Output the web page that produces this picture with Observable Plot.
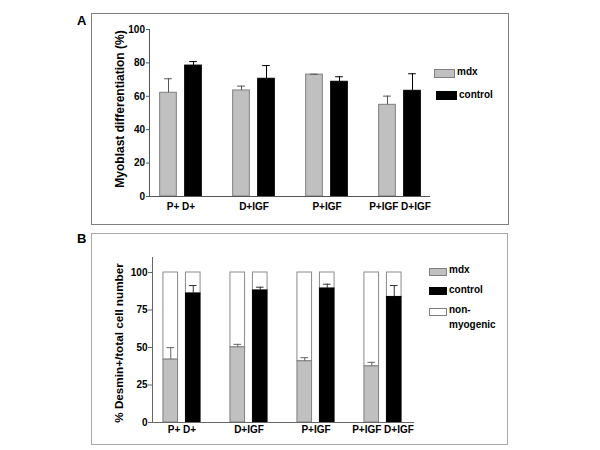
<!DOCTYPE html>
<html>
<head>
<meta charset="utf-8">
<script src="https://cdn.jsdelivr.net/npm/d3@7"></script>
<script src="https://cdn.jsdelivr.net/npm/@observablehq/plot@0.6"></script>
<style>
  html, body { margin: 0; padding: 0; background: #fff; }
  #root { position: relative; width: 600px; height: 450px; overflow: hidden;
          font-family: "Liberation Sans", Arial, sans-serif; font-weight: bold; color: #000; }
  .panel { position: absolute; box-sizing: border-box; }
  .frameA { left: 91px; top: 13px; width: 418px; height: 212px; border: 1px solid #808080; }
  .frameB { left: 91px; top: 233px; width: 417px; height: 212px; border: 1px solid #a8a8a8; }
  .plot { position: absolute; left: 0; }
  .tag { position: absolute; font-size: 13px; font-weight: bold; line-height: 1; }
  .leg { position: absolute; font-size: 10px; font-weight: bold; line-height: 1; white-space: nowrap; }
  .sw { position: absolute; box-sizing: border-box; }
</style>
</head>
<body>
<div id="root">
  <div class="panel frameA"></div>
  <div class="panel frameB"></div>
  <div class="tag" style="left:77px;top:14px;">A</div>
  <div class="tag" style="left:77px;top:232px;">B</div>
  <div id="plotA" class="plot" style="top:0px;"></div>
  <div id="plotB" class="plot" style="top:225px;"></div>

  <!-- legend A -->
  <div class="sw" style="left:434px;top:69px;width:21px;height:9px;background:#c0c0c0;border:1px solid #808080;"></div>
  <div class="leg" style="left:457px;top:67px;">mdx</div>
  <div class="sw" style="left:436px;top:91px;width:21px;height:9px;background:#000;border:1px solid #000;"></div>
  <div class="leg" style="left:459px;top:90px;">control</div>

  <!-- legend B -->
  <div class="sw" style="left:429px;top:268px;width:18px;height:8px;background:#c0c0c0;border:1px solid #808080;"></div>
  <div class="leg" style="left:449px;top:265px;">mdx</div>
  <div class="sw" style="left:429px;top:287px;width:18px;height:8px;background:#000;border:1px solid #000;"></div>
  <div class="leg" style="left:449px;top:285px;">control</div>
  <div class="sw" style="left:429px;top:308px;width:18px;height:8px;background:#fff;border:1px solid #808080;"></div>
  <div class="leg" style="left:449px;top:305px;">non-</div>
  <div class="leg" style="left:449px;top:320px;">myogenic</div>
</div>
<script>
// ---------- data ----------
const groups = ["P+ D+", "D+IGF", "P+IGF", "P+IGF D+IGF"];

// Panel A: Myoblast differentiation (%)
const diffMdx      = [62.1, 63.5, 73.0, 54.9];
const diffMdxErr   = [70.5, 66.1, 73.2, 60.1];
const diffCtrl     = [78.4, 70.5, 68.7, 63.3];
const diffCtrlErr  = [80.8, 78.4, 71.7, 73.5];
const ticksA = [0, 20, 40, 60, 80, 100];

// Panel B: % Desmin+/total cell number
const desMdx       = [41.9, 50.1, 40.8, 37.4];
const desMdxErr    = [49.9, 52.1, 43.2, 40.1];
const desCtrl      = [86.0, 88.0, 89.3, 83.7];
const desCtrlErr   = [91.3, 90.2, 92.2, 91.3];
const totalB = 100;
const ticksB = [0, 25, 50, 75, 100];

const titleA = "Myoblast differentiation (%)";
const titleB = "% Desmin+/total cell number";

// ---------- helpers ----------
const table = (vals, errs) => groups.map((g, i) => ({group: g, value: vals[i], err: errs[i]}));
const A_mdx = table(diffMdx, diffMdxErr);
const A_ctl = table(diffCtrl, diffCtrlErr);
const B_mdx = table(desMdx, desMdxErr);
const B_ctl = table(desCtrl, desCtrlErr);

const GRAY = "#c0c0c0", GRAY_STROKE = "#7f7f7f";

// bar placement inside a band: band width bw, bar width w, centre offset o
function insets(bw, w, o) {
  return {insetLeft: bw / 2 + o - w / 2, insetRight: bw / 2 - o - w / 2};
}

// ---------- Panel A ----------
{
  const step = 73.33, pin = 0.3, bw = step * (1 - pin), w = 17, off = 12.5, cap = 8;
  const mL = insets(bw, w, -off), cL = insets(bw, w, off);
  const capM = insets(bw, cap, -off), capC = insets(bw, cap, off);
  const chart = Plot.plot({
    width: 600, height: 225,
    marginLeft: 149, marginRight: 171, marginTop: 29, marginBottom: 29,
    style: {fontFamily: '"Liberation Sans", Arial, sans-serif', fontSize: "10px", fontWeight: "bold", color: "#000", background: "transparent", overflow: "visible"},
    x: {type: "band", domain: groups, paddingInner: pin, paddingOuter: 0, insetLeft: 5.33, insetRight: 3.33, label: null},
    y: {domain: [0, 100], label: null},
    marks: [
      Plot.barY(A_mdx, {x: "group", y: "value", fill: GRAY, stroke: GRAY_STROKE, strokeWidth: 1, ...mL}),
      Plot.barY(A_ctl, {x: "group", y: "value", fill: "#000", stroke: "#000", strokeWidth: 1, ...cL}),
      Plot.ruleX(A_mdx, {x: "group", y1: "value", y2: "err", dx: -off, stroke: "#555", strokeWidth: 1}),
      Plot.tickY(A_mdx, {x: "group", y: "err", stroke: "#555", strokeWidth: 1, ...capM}),
      Plot.ruleX(A_ctl, {x: "group", y1: "value", y2: "err", dx: off, stroke: "#000", strokeWidth: 1}),
      Plot.tickY(A_ctl, {x: "group", y: "err", stroke: "#000", strokeWidth: 1, ...capC}),
      Plot.frame({anchor: "left", stroke: "#555"}),
      Plot.frame({anchor: "bottom", stroke: "#555"}),
      Plot.axisY({ticks: ticksA, tickSize: 3, tickPadding: 1.5, stroke: "#555", label: null}),
      Plot.axisX({tickSize: 0, tickPadding: 6, label: null}),
      Plot.text([titleA], {text: d => d, frameAnchor: "left", textAnchor: "middle", lineAnchor: "middle", rotate: -90, dx: -29, dy: -4, fontSize: 12, fontWeight: "bold", fill: "#000"})
    ]
  });
  document.getElementById("plotA").appendChild(chart);
}

// ---------- Panel B ----------
{
  const step = 67.67, pin = 0.3, bw = step * (1 - pin), w = 15, off = 11.25, cap = 8;
  const mL = insets(bw, w, -off), cL = insets(bw, w, off);
  const capM = insets(bw, cap, -off), capC = insets(bw, cap, off);
  const chart = Plot.plot({
    width: 600, height: 225,
    marginLeft: 152, marginRight: 187, marginTop: 32, marginBottom: 28,
    style: {fontFamily: '"Liberation Sans", Arial, sans-serif', fontSize: "10px", fontWeight: "bold", color: "#000", background: "transparent", overflow: "visible"},
    x: {type: "band", domain: groups, paddingInner: pin, paddingOuter: 0, insetLeft: 4.8, insetRight: 5.8, label: null},
    y: {domain: [0, 110], label: null},
    marks: [
      Plot.barY(B_mdx, {x: "group", y1: "value", y2: totalB, fill: "#fff", stroke: "#8a8a8a", strokeWidth: 1, ...mL}),
      Plot.barY(B_ctl, {x: "group", y1: "value", y2: totalB, fill: "#fff", stroke: "#8a8a8a", strokeWidth: 1, ...cL}),
      Plot.barY(B_mdx, {x: "group", y: "value", fill: GRAY, stroke: GRAY_STROKE, strokeWidth: 1, ...mL}),
      Plot.barY(B_ctl, {x: "group", y: "value", fill: "#000", stroke: "#000", strokeWidth: 1, ...cL}),
      Plot.ruleX(B_mdx, {x: "group", y1: "value", y2: "err", dx: -off, stroke: "#666", strokeWidth: 1}),
      Plot.tickY(B_mdx, {x: "group", y: "err", stroke: "#666", strokeWidth: 1, ...capM}),
      Plot.ruleX(B_ctl, {x: "group", y1: "value", y2: "err", dx: off, stroke: "#333", strokeWidth: 1}),
      Plot.tickY(B_ctl, {x: "group", y: "err", stroke: "#333", strokeWidth: 1, ...capC}),
      Plot.frame({anchor: "left", stroke: "#666"}),
      Plot.frame({anchor: "bottom", stroke: "#666"}),
      Plot.axisY({ticks: ticksB, tickSize: 4, tickPadding: 1, stroke: "#666", label: null}),
      Plot.axisX({tickSize: 0, tickPadding: 3, label: null}),
      Plot.text([titleB], {text: d => d, frameAnchor: "left", textAnchor: "middle", lineAnchor: "middle", rotate: -90, dx: -33, dy: 3, fontSize: 11.7, fontWeight: "bold", fill: "#000"})
    ]
  });
  document.getElementById("plotB").appendChild(chart);
}
</script>
</body>
</html>
